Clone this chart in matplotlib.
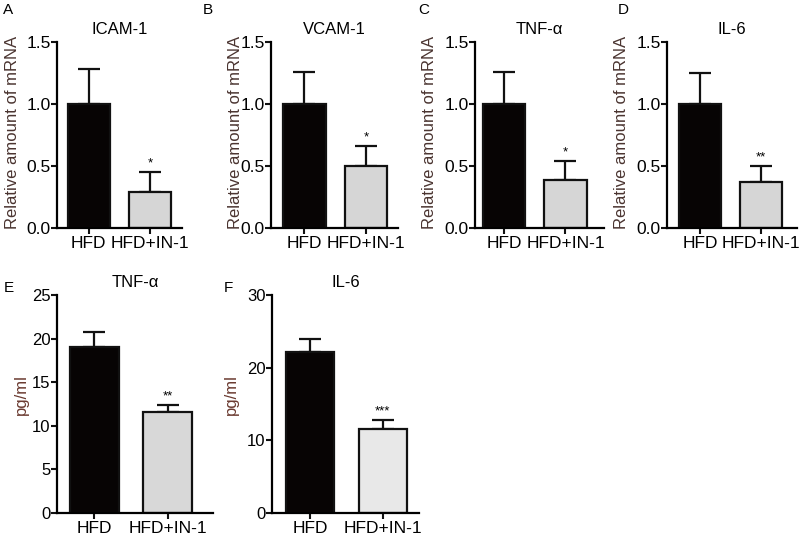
import matplotlib
matplotlib.use("Agg")
import matplotlib.pyplot as plt

plt.rcParams['font.family'] = ['Liberation Sans', 'DejaVu Sans']

groups = ['HFD', 'HFD+IN-1']

# mRNA panels (A-D)
mrna_titles = ['ICAM-1', 'VCAM-1', 'TNF-\u03b1', 'IL-6']
mrna_letters = ['A', 'B', 'C', 'D']
mrna_means = [[1.00, 0.29], [1.00, 0.50], [1.00, 0.39], [1.00, 0.37]]
mrna_err = [[0.28, 0.16], [0.26, 0.16], [0.26, 0.15], [0.25, 0.13]]
mrna_stars = ['*', '*', '*', '**']

# protein panels (E-F)
prot_titles = ['TNF-\u03b1', 'IL-6']
prot_letters = ['E', 'F']
prot_means = [[19.0, 11.6], [22.2, 11.6]]
prot_err = [[1.7, 0.8], [1.8, 1.2]]
prot_stars = ['**', '***']
prot_ymax = [25, 30]
prot_yticks = [[0, 5, 10, 15, 20, 25], [0, 10, 20, 30]]

W, H = 800, 541
fig = plt.figure(figsize=(8, 5.41), dpi=100)

def add_ax(left, right, top, bottom):
    return fig.add_axes([left / W, 1 - bottom / H, (right - left) / W, (bottom - top) / H])

def style(ax, ysize, xsize, xpad):
    for s in ['top', 'right']:
        ax.spines[s].set_visible(False)
    for s in ['left', 'bottom']:
        ax.spines[s].set_linewidth(1.6)
    ax.tick_params(axis='both', direction='out', width=1.5, length=4, color='#111111')
    ax.tick_params(axis='y', labelsize=ysize, pad=0.5)
    ax.tick_params(axis='x', labelsize=xsize, pad=xpad)

def draw(ax, means, errs, star, fill, width, ymax, star_off):
    x = [0, 1]
    ax.bar(x, means, width=width, color=['#070404', fill], edgecolor='#111111', linewidth=1.6, zorder=2)
    ax.errorbar(x, means, yerr=[[0, 0], errs], fmt='none', ecolor='#111111',
                elinewidth=1.6, capsize=8, capthick=1.6, zorder=1)
    ax.text(1, means[1] + errs[1] + star_off, star, ha='center', va='bottom', fontsize=9.5)
    ax.set_xticks(x)
    ax.set_xticklabels(groups)
    ax.set_ylim(0, ymax)

# pixel boxes (left, right, top, bottom) and xlim
mrna_boxes = [(57, 182, 42, 228), (271, 398, 42, 228), (475, 604, 42, 228), (667, 797, 42, 228)]
mrna_xlims = [(-0.52, 1.52), (-0.54, 1.52), (-0.48, 1.63), (-0.54, 1.59)]
mrna_letter_x = [3, 203, 418, 618]
mrna_ylabel_x = [13, 235, 429, 622]

for i in range(4):
    ax = add_ax(*mrna_boxes[i])
    draw(ax, mrna_means[i], mrna_err[i], mrna_stars[i], '#d6d6d6', 0.69, 1.5, 0.02)
    ax.set_xlim(*mrna_xlims[i])
    ax.set_yticks([0, 0.5, 1.0, 1.5])
    ax.set_yticklabels(['0.0', '0.5', '1.0', '1.5'])
    style(ax, 12.5, 12.5, 1.5)
    ax.set_title(mrna_titles[i], fontsize=12, pad=6)
    fig.text(mrna_ylabel_x[i] / W, 1 - 132 / H, 'Relative amount of mRNA', rotation=90,
             ha='center', va='center', fontsize=12, color='#4a3430')
    fig.text(mrna_letter_x[i] / W, 1 - 10 / H, mrna_letters[i], ha='left', va='center', fontsize=11)

prot_boxes = [(57, 213, 295, 513), (272, 419, 295, 513)]
prot_xlims = [(-0.51, 1.62), (-0.53, 1.50)]
prot_fill = ['#d8d8d8', '#e8e8e8']
prot_letter_x = [4, 224]
prot_ylabel_x = [21, 231]

for i in range(2):
    ax = add_ax(*prot_boxes[i])
    draw(ax, prot_means[i], prot_err[i], prot_stars[i], prot_fill[i], 0.66, prot_ymax[i],
         prot_ymax[i] * 0.01)
    ax.set_xlim(*prot_xlims[i])
    ax.set_yticks(prot_yticks[i])
    style(ax, 12, 12.5, 1.5)
    ax.set_title(prot_titles[i], fontsize=12, pad=6)
    fig.text(prot_ylabel_x[i] / W, 1 - 395 / H, 'pg/ml', rotation=90,
             ha='center', va='center', fontsize=12, color='#6a3a30')
    fig.text(prot_letter_x[i] / W, 1 - 288 / H, prot_letters[i], ha='left', va='center', fontsize=11)

fig.savefig('out.png', dpi=100)
